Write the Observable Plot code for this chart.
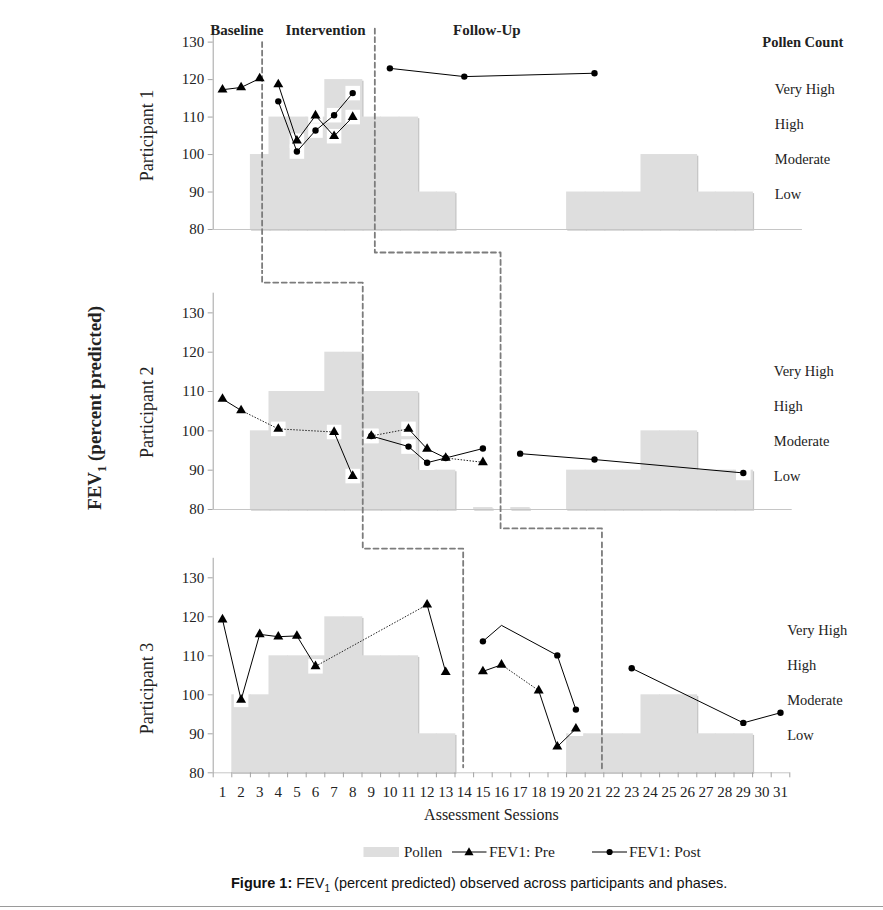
<!DOCTYPE html>
<html><head><meta charset="utf-8">
<script src="https://cdn.jsdelivr.net/npm/d3@7"></script>
<script src="https://cdn.jsdelivr.net/npm/@observablehq/plot@0.6"></script>
<style>
body{margin:0;background:#fff;}
#wrap{position:relative;width:883px;height:910px;font-family:"Liberation Serif",serif;background:#fff;overflow:hidden;}
#wrap svg.panel{position:absolute;left:0;overflow:hidden;}
.abs{position:absolute;white-space:nowrap;}
</style></head><body><div id="wrap"></div>
<script>
// ---------- data ----------
const sessions = d3.range(1, 32);
const yTicks = [80, 90, 100, 110, 120, 130];
const pollenLabels = ["Very High", "High", "Moderate", "Low"];
const phaseTitles = ["Baseline", "Intervention", "Follow-Up"];
const phaseTitleX = [1.77, 6.54, 15.21];
const participants = ["Participant 1", "Participant 2", "Participant 3"];

// Participant 1
const p1PreSessions = [1, 2, 3, 4, 5, 6, 7, 8];
const p1PreValues = [117.3, 117.9, 120.3, 118.7, 103.7, 110.4, 104.9, 110.0];
const p1PostSessions = [4, 5, 6, 7, 8, 10, 14, 21];
const p1PostValues = [114.2, 100.8, 106.4, 110.5, 116.4, 123.0, 120.8, 121.7];
const p1PollenSessions = [3, 4, 5, 6, 7, 8, 9, 10, 11, 12, 13, 20, 21, 22, 23, 24, 25, 26, 27, 28, 29];
const p1PollenLevels = [100, 110, 110, 110, 120, 120, 110, 110, 110, 90, 90, 90, 90, 90, 90, 100, 100, 100, 90, 90, 90];

// Participant 2
const p2PreSessions = [1, 2, 4, 7, 8, 9, 11, 12, 13, 15];
const p2PreValues = [108.1, 105.2, 100.5, 99.7, 88.5, 98.7, 100.5, 95.4, 93.1, 92.0];
const p2PostSessions = [9, 11, 12, 13, 15, 17, 21, 29];
const p2PostValues = [98.7, 96.0, 91.9, 93.1, 95.5, 94.2, 92.7, 89.3];
const p2PollenSessions = [3, 4, 5, 6, 7, 8, 9, 10, 11, 12, 13, 15, 17, 20, 21, 22, 23, 24, 25, 26, 27, 28, 29];
const p2PollenLevels = [100, 110, 110, 110, 120, 120, 110, 110, 110, 90, 90, 80.5, 80.5, 90, 90, 90, 90, 100, 100, 100, 90, 90, 90];

// Participant 3
const p3PreSessions = [1, 2, 3, 4, 5, 6, 12, 13, 15, 16, 18, 19, 20];
const p3PreValues = [119.3, 98.7, 115.5, 114.9, 115.1, 107.3, 123.1, 105.8, 106.0, 107.7, 101.1, 86.7, 91.3];
const p3PostSessions = [15, 16, 19, 20, 23, 29, 31];
const p3PostValues = [113.7, 117.8, 110.1, 96.2, 106.8, 92.8, 95.4];
const p3PostHidden = [16];
const p3PollenSessions = [2, 3, 4, 5, 6, 7, 8, 9, 10, 11, 12, 13, 20, 21, 22, 23, 24, 25, 26, 27, 28, 29];
const p3PollenLevels = [100, 100, 110, 110, 110, 120, 120, 110, 110, 110, 90, 90, 90, 90, 90, 90, 100, 100, 100, 90, 90, 90];

// phase-change lines (session units) per participant
const changeBaseline = [3.13, 8.54, 13.94];
const changeFollowUp = [9.19, 15.95, 21.4];
// stair-step dashed connectors, per panel, in that panel's value units
const stairs = [
  [{id: "a", pts: [[3.13, 130], [3.13, 60]]},
   {id: "b", pts: [[9.19, 133.6], [9.19, 73.86], [15.95, 73.86], [15.95, 60]]}],
  [{id: "a", pts: [[3.13, 150], [3.13, 137.7], [8.54, 137.7], [8.54, 60]]},
   {id: "b", pts: [[15.95, 150], [15.95, 75.2], [21.4, 75.2], [21.4, 60]]}],
  [{id: "a", pts: [[8.54, 150], [8.54, 137.5], [13.94, 137.5], [13.94, 81.4]]},
   {id: "b", pts: [[21.4, 150], [21.4, 80.6]]}]
];
const pollenLabelX = [30.69, 30.64, 31.36];
const pollenLabelY = [
  [117.27, 107.93, 98.6, 89.26],
  [115.16, 106.26, 97.37, 88.39],
  [116.5, 107.5, 98.5, 89.6]
];
const participantLabelY = [105.1, 104.7, 101.6];

// ---------- layout ----------
const font = "'Liberation Serif', 'Times New Roman', serif";
const W = 883, ML = 212.7, MR = 93.7;
const layout = [
  {top: 0, height: 270, mt: 33, mb: 41, yMax: 132.3, xLineEnd: 32.18},
  {top: 270, height: 270, mt: 22.7, mb: 31, yMax: 135, xLineEnd: 31.63},
  {top: 540, height: 300, mt: 17.8, mb: 67.7, yMax: 135, xLineEnd: 31.5}
];
const data = [
  {pre: [p1PreSessions, p1PreValues], post: [p1PostSessions, p1PostValues], hidden: [], pollen: [p1PollenSessions, p1PollenLevels]},
  {pre: [p2PreSessions, p2PreValues], post: [p2PostSessions, p2PostValues], hidden: [], pollen: [p2PollenSessions, p2PollenLevels]},
  {pre: [p3PreSessions, p3PreValues], post: [p3PostSessions, p3PostValues], hidden: p3PostHidden, pollen: [p3PollenSessions, p3PollenLevels]}
];

function pts([s, v]) { return s.map((d, i) => ({s: d, v: v[i]})); }
function segs(points, changes, dotGaps) {
  const out = [];
  for (let i = 0; i < points.length - 1; i++) {
    const a = points[i], b = points[i + 1];
    if (changes.some(c => c > a.s && c < b.s)) continue;
    out.push({x1: a.s, y1: a.v, x2: b.s, y2: b.v, dot: dotGaps && b.s - a.s > 1});
  }
  return out;
}

const wrap = document.getElementById("wrap");

layout.forEach((L, k) => {
  const D = data[k];
  const changes = [changeBaseline[k], changeFollowUp[k]];
  const pre = pts(D.pre), post = pts(D.post);
  const postShown = post.filter(d => !D.hidden.includes(d.s));
  const pollen = pts(D.pollen);
  const lineSegs = [...segs(pre, changes, true), ...segs(post, changes, false)];
  const stairPts = stairs[k].flatMap(st => st.pts.map(([x, y]) => ({id: st.id, x, y})));
  const labels = pollenLabels.map((t, i) => ({t, y: pollenLabelY[k][i]}));

  const marks = [
    Plot.rect(pollen, {x1: d => d.s - 0.5, x2: d => d.s + 0.5, y1: 80, y2: "v", fill: "#c4c4c4", dx: 1.2, dy: 1.6, insetRight: -0.8}),
    Plot.rect(pollen, {x1: d => d.s - 0.5, x2: d => d.s + 0.5, y1: 80, y2: "v", fill: "#dedede", insetRight: -0.8}),
    Plot.ruleY([80], {x1: 0.5, x2: L.xLineEnd, stroke: "#c6c6c6", strokeWidth: 1}),
    Plot.ruleX([0.5], {y1: 80, y2: L.yMax, stroke: "#a3a3a3", strokeWidth: 1}),
    Plot.axisY(yTicks, {tickSize: 5, tickPadding: 4, stroke: "#a3a3a3", fill: "#222", fontSize: 15, fontFamily: font, label: null}),
    Plot.dot([...pre, ...post], {x: "s", y: "v", symbol: "square", r: 8.2, fill: "white"}),
    Plot.link(lineSegs.filter(d => !d.dot), {x1: "x1", y1: "y1", x2: "x2", y2: "y2", stroke: "#000", strokeWidth: 1}),
    Plot.link(lineSegs.filter(d => d.dot), {x1: "x1", y1: "y1", x2: "x2", y2: "y2", stroke: "#222", strokeWidth: 1, strokeDasharray: "1.5,1.5"}),
    Plot.line(stairPts, {x: "x", y: "y", z: "id", stroke: "#7c7c7c", strokeWidth: 1.8, strokeDasharray: "5,3.5"}),
    Plot.dot(pre, {x: "s", y: "v", symbol: "triangle", r: 3.7, fill: "#000"}),
    Plot.dot(postShown, {x: "s", y: "v", symbol: "circle", r: 3.2, fill: "#000"}),
    Plot.text(labels, {x: pollenLabelX[k], y: "y", text: "t", textAnchor: "start", fontSize: 14.5, fontFamily: font, fill: "#222"}),
    Plot.text([participants[k]], {frameAnchor: "left", y: participantLabelY[k], dx: -66, rotate: -90, textAnchor: "middle", fontSize: 18, fontFamily: font, fill: "#222"})
  ];
  if (k === 0) {
    marks.push(Plot.text(phaseTitles.map((t, i) => ({t, x: phaseTitleX[i]})), {x: "x", y: 133.1, text: "t", fontSize: 15, fontWeight: "bold", fontFamily: font, fill: "#222"}));
    marks.push(Plot.text(["Pollen Count"], {x: 32.2, y: 130, fontSize: 14.5, fontWeight: "bold", fontFamily: font, fill: "#222"}));
  }
  if (k === 2) {
    marks.push(Plot.axisX(sessions, {tickSize: 0, tickPadding: 14, fill: "#222", fontSize: 15, fontFamily: font, label: null}));
    marks.push(Plot.axisX(d3.range(0.5, 32, 1), {tickSize: 5, tickFormat: () => "", stroke: "#a3a3a3", label: null}));
    marks.push(Plot.text(["Assessment Sessions"], {x: 15.46, frameAnchor: "bottom", dy: 47, fontSize: 16, fontFamily: font, fill: "#222"}));
  }

  const svg = Plot.plot({
    width: W, height: L.height,
    marginLeft: ML, marginRight: MR, marginTop: L.mt, marginBottom: L.mb,
    x: {type: "linear", domain: [0.5, 31.5], axis: null},
    y: {type: "linear", domain: [80, L.yMax], axis: null},
    style: {fontFamily: font, background: "transparent", overflow: "hidden"},
    marks
  });
  svg.classList.add("panel");
  svg.style.top = L.top + "px";
  svg.style.position = "absolute";
  svg.style.left = "0px";
  svg.style.maxWidth = "none";
  wrap.appendChild(svg);
});

// y title spanning panels
const yt = document.createElement("div");
yt.className = "abs";
yt.style.cssText = "position:absolute;left:97px;top:408px;transform:translate(-50%,-50%) rotate(-90deg);font:bold 19px 'Liberation Serif',serif;color:#222;white-space:nowrap;";
yt.innerHTML = "FEV<sub style='font-size:12.5px'>1</sub> (percent predicted)";
wrap.appendChild(yt);

// legend
const leg = document.createElementNS("http://www.w3.org/2000/svg", "svg");
leg.setAttribute("width", 883); leg.setAttribute("height", 24);
leg.style.cssText = "position:absolute;left:0;top:840px;";
leg.innerHTML = `
<rect x="363.5" y="7" width="35.5" height="10" fill="#dedede"/>
<text x="404" y="17" font-family="Liberation Serif, serif" font-size="15" fill="#222">Pollen</text>
<line x1="452" x2="486.5" y1="12" y2="12" stroke="#000"/>
<path d="${d3.symbol(d3.symbolTriangle, 36)()}" transform="translate(469,12.5)" fill="#000"/>
<text x="489" y="17" font-family="Liberation Serif, serif" font-size="15.5" fill="#222">FEV1: Pre</text>
<line x1="592" x2="627" y1="12" y2="12" stroke="#000"/>
<circle cx="609.6" cy="12" r="3.1" fill="#000"/>
<text x="629" y="17" font-family="Liberation Serif, serif" font-size="15.5" fill="#222">FEV1: Post</text>`;
wrap.appendChild(leg);

// caption
const cap = document.createElement("div");
cap.className = "abs";
cap.style.cssText = "position:absolute;left:231px;top:875px;font:14.5px 'Liberation Sans',Arial,sans-serif;color:#111;white-space:nowrap;";
cap.innerHTML = "<b>Figure 1:</b> FEV<sub style='font-size:10px'>1</sub> (percent predicted) observed across participants and phases.";
wrap.appendChild(cap);

const rule = document.createElement("div");
rule.style.cssText = "position:absolute;left:0;top:906px;width:883px;height:0;border-top:1px solid #9a9a9a;";
wrap.appendChild(rule);
</script></body></html>
